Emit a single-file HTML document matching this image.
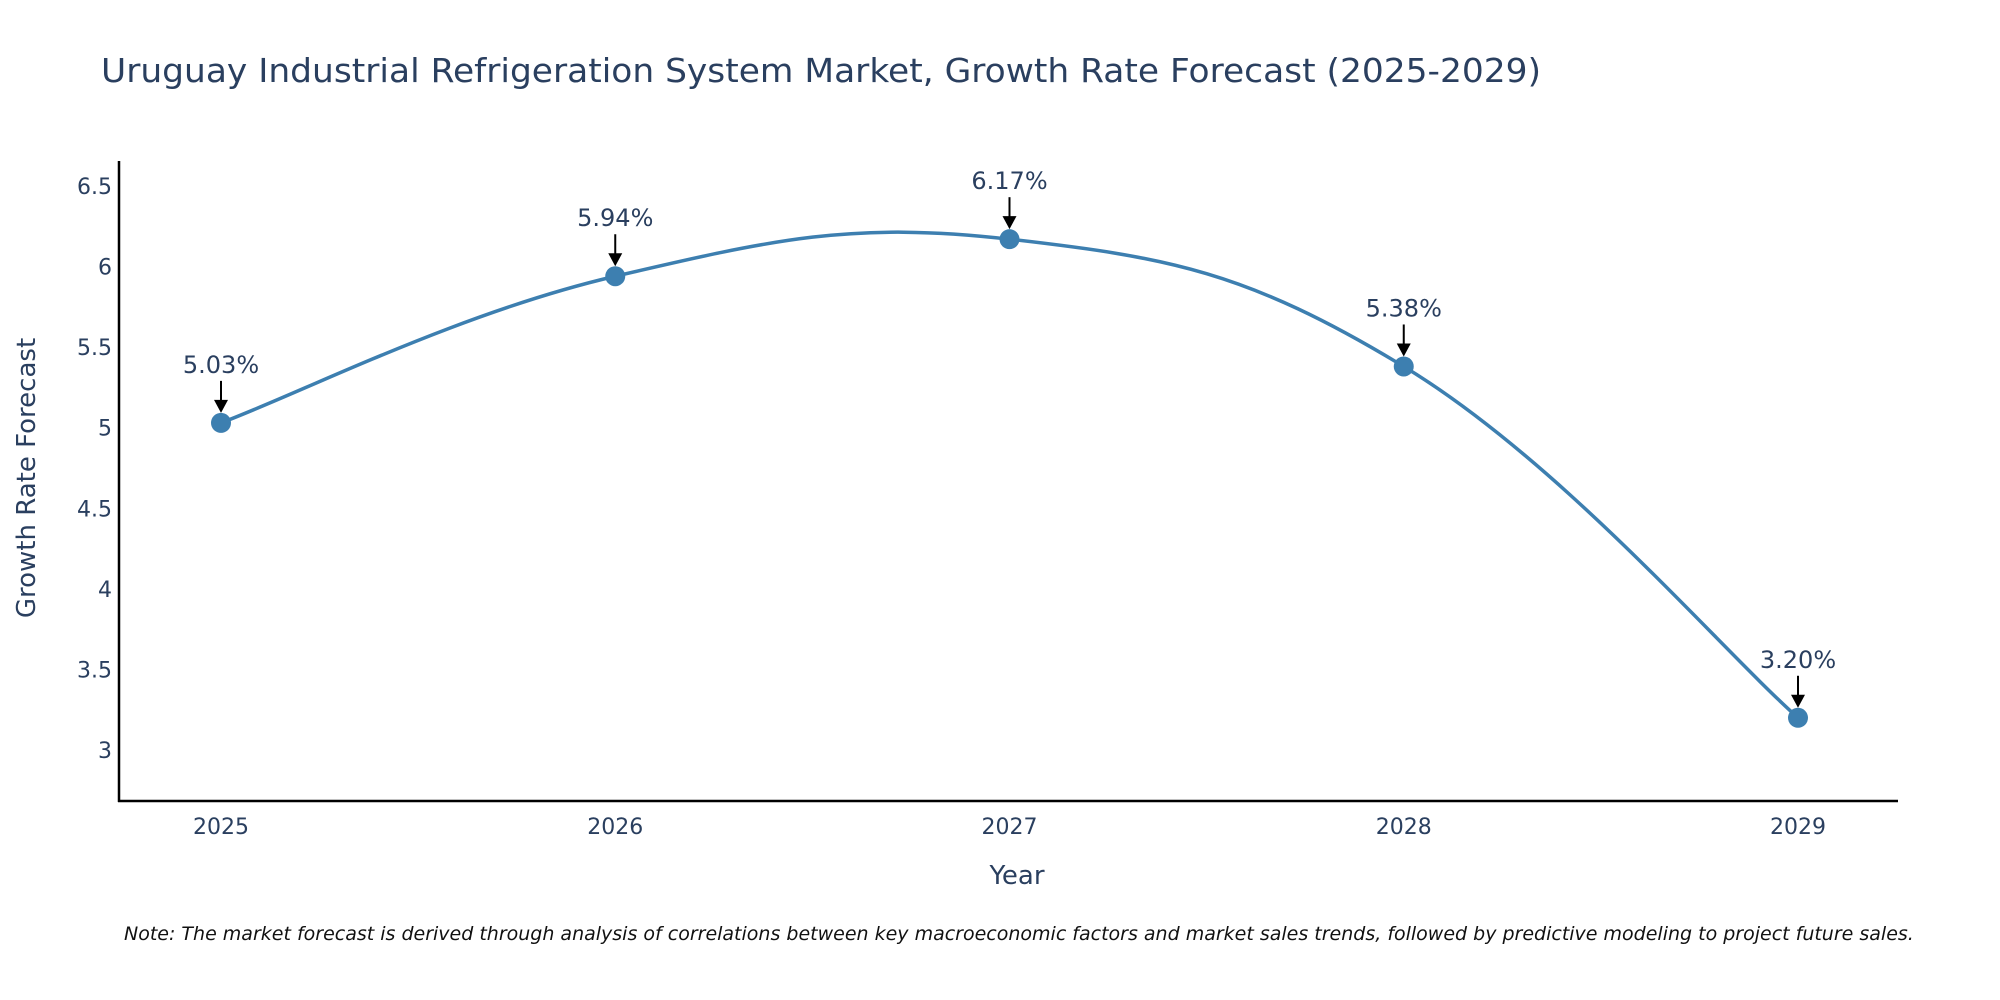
<!DOCTYPE html>
<html><head><meta charset="utf-8"><style>
html,body{margin:0;padding:0;background:#fff;}
svg{display:block;font-family:"DejaVu Sans","Liberation Sans",sans-serif;}
</style></head><body>
<svg id="chart" width="2000" height="1000" viewBox="0 0 2000 1000">
<text x="101" y="82" font-size="33" fill="#2a3f5f" textLength="1440" lengthAdjust="spacingAndGlyphs">Uruguay Industrial Refrigeration System Market, Growth Rate Forecast (2025-2029)</text>
<g id="yticks"></g>
<g id="xticks"></g>
<line x1="119" y1="161" x2="119" y2="802" stroke="#000" stroke-width="2.5"/>
<line x1="118" y1="801" x2="1898" y2="801" stroke="#000" stroke-width="2.5"/>
<path id="line" fill="none" stroke="#3d7fb0" stroke-width="3.5"/>
<g id="marks"></g>
<text x="1017" y="884" font-size="26" fill="#2a3f5f" text-anchor="middle">Year</text>
<text transform="translate(35,478) rotate(-90)" font-size="26" fill="#2a3f5f" text-anchor="middle">Growth Rate Forecast</text>
<text x="124" y="940" font-size="19" font-style="italic" fill="#111">Note: The market forecast is derived through analysis of correlations between key macroeconomic factors and market sales trends, followed by predictive modeling to project future sales.</text>
</svg>
<script>
const years = [2025, 2026, 2027, 2028, 2029];
const growth = [5.03, 5.94, 6.17, 5.38, 3.20];
const labels = ["5.03%", "5.94%", "6.17%", "5.38%", "3.20%"];
const yTickValues = [3, 3.5, 4, 4.5, 5, 5.5, 6, 6.5];
const yTickLabels = ["3", "3.5", "4", "4.5", "5", "5.5", "6", "6.5"];

const NS = "http://www.w3.org/2000/svg";
const xs = v => 221 + (v - 2025) * (1798 - 221) / 4;
const ys = v => 750 - (v - 3) * (750 - 186) / 3.5;
function mk(tag, attrs, parent) {
  const e = document.createElementNS(NS, tag);
  for (const k in attrs) e.setAttribute(k, attrs[k]);
  parent.appendChild(e);
  return e;
}
const yt = document.getElementById('yticks');
yTickValues.forEach((v, i) => {
  const t = mk('text', {x: 112, y: ys(v) + 8, 'font-size': 22, fill: '#2a3f5f', 'text-anchor': 'end'}, yt);
  
  
  t.textContent = yTickLabels[i];
});
const xt = document.getElementById('xticks');
years.forEach(v => {
  const t = mk('text', {x: xs(v), y: 834, 'font-size': 22, fill: '#2a3f5f', 'text-anchor': 'middle'}, xt);
  
  
  t.textContent = String(v);
});
const pts = years.map((y, i) => [xs(y), ys(growth[i])]);
let d = `M${pts[0][0]},${pts[0][1]}`;
const k = 0.4;
for (let i = 0; i < pts.length - 1; i++) {
  const p0 = pts[Math.max(0, i - 1)], p1 = pts[i], p2 = pts[i + 1], p3 = pts[Math.min(pts.length - 1, i + 2)];
  const c1 = [p1[0] + (p2[0] - p0[0]) * k / 2, p1[1] + (p2[1] - p0[1]) * k / 2];
  const c2 = [p2[0] - (p3[0] - p1[0]) * k / 2, p2[1] - (p3[1] - p1[1]) * k / 2];
  d += ` C${c1[0]},${c1[1]} ${c2[0]},${c2[1]} ${p2[0]},${p2[1]}`;
}
document.getElementById('line').setAttribute('d', d);
const mg = document.getElementById('marks');
pts.forEach((p, i) => {
  const c = mk('circle', {cx: p[0], cy: p[1], r: 10, fill: '#3d7fb0'}, mg);
  
  
  const ln = mk('line', {x1: p[0], y1: p[1] - 42, x2: p[0], y2: p[1] - 22, stroke: '#000', 'stroke-width': 2}, mg);
  
  
  const hd = mk('polygon', {points: `${p[0]-7},${p[1]-23} ${p[0]+7},${p[1]-23} ${p[0]},${p[1]-10}`, fill: '#000'}, mg);
  
  
  const t = mk('text', {x: p[0], y: p[1] - 50, 'font-size': 24, fill: '#2a3f5f', 'text-anchor': 'middle'}, mg);
  
  
  t.textContent = labels[i];
});
</script>
</body></html>
